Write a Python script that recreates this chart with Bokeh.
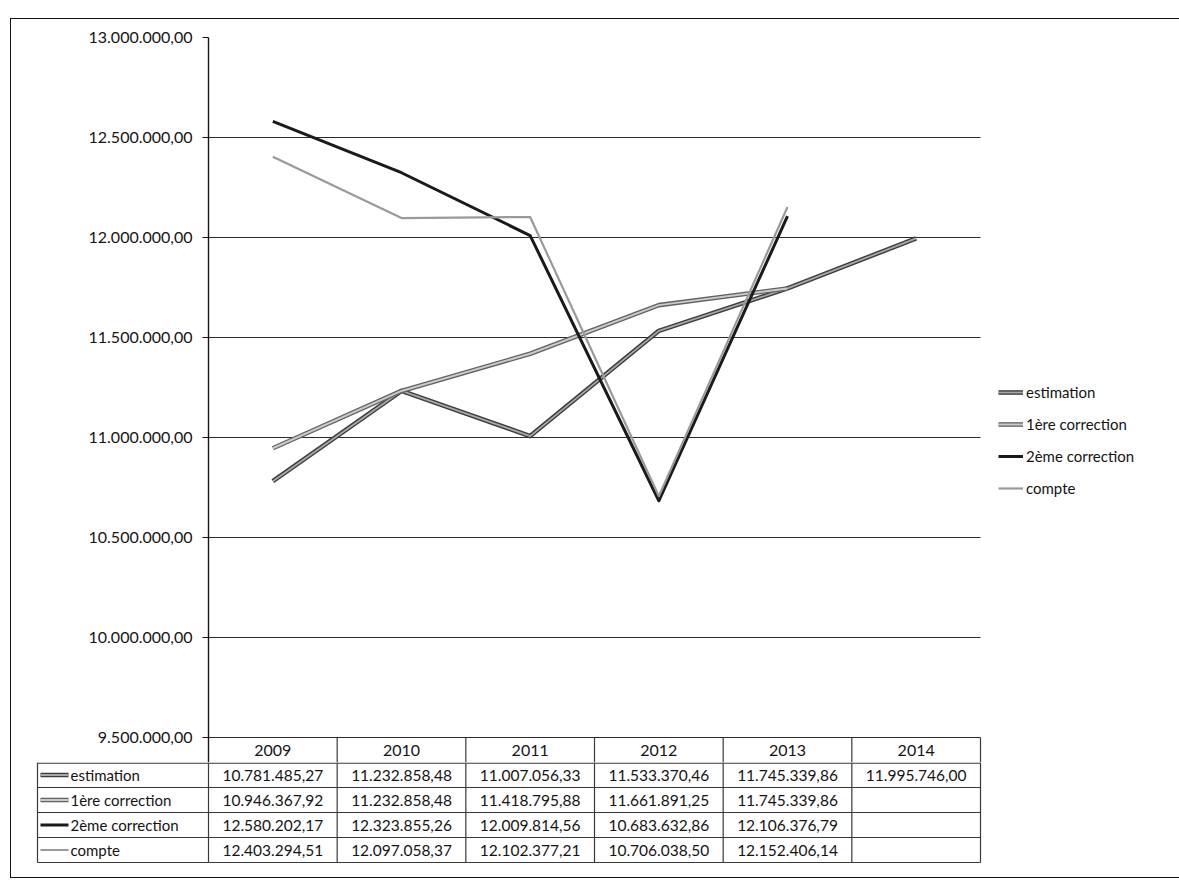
import numpy as np
from bokeh.plotting import figure
from bokeh.models import Range1d, FixedTicker, Legend, LegendItem, Div
from bokeh.core.properties import value
from bokeh.embed import file_html
from bokeh.resources import INLINE

# ---- data -------------------------------------------------------------
years = ["2009", "2010", "2011", "2012", "2013", "2014"]
estimation = [10781485.27, 11232858.48, 11007056.33, 11533370.46, 11745339.86, 11995746.00]
correction_1 = [10946367.92, 11232858.48, 11418795.88, 11661891.25, 11745339.86, None]
correction_2 = [12580202.17, 12323855.26, 12009814.56, 10683632.86, 12106376.79, None]
compte = [12403294.51, 12097058.37, 12102377.21, 10706038.50, 12152406.14, None]
series_names = ["estimation", "1ère correction", "2ème correction", "compte"]
series_values = [estimation, correction_1, correction_2, compte]

y_ticks = [9500000, 10000000, 10500000, 11000000, 11500000, 12000000, 12500000, 13000000]
y_tick_labels = ["9.500.000,00", "10.000.000,00", "10.500.000,00", "11.000.000,00",
                 "11.500.000,00", "12.000.000,00", "12.500.000,00", "13.000.000,00"]

# ---- styling ----------------------------------------------------------
FONT = "Lato"
INK = "#141414"
RULE = "#3a3a3a"
# each series is drawn as one or more stacked strokes (colour, width)
STYLES = {
    "estimation": [("#3c3c3c", 4.6), ("#a8a8a8", 1.8)],
    "1ère correction": [("#626262", 4.6), ("#cacaca", 2.0)],
    "2ème correction": [("#1a1a1a", 3.0)],
    "compte": [("#9a9a9a", 2.2)],
}

W = 1179
FRAME_L, PLOT_R, FRAME_T = 208, 980, 37   # PLOT_R: right end of the category area
PX_PER_UNIT_Y = 200 / 1_000_000          # 200 px per million
HEADER_H = 25                             # year header row, inside the chart frame
TOP_H = FRAME_T + int(round((y_ticks[-1] - y_ticks[0]) * PX_PER_UNIT_Y)) + HEADER_H
BOT_H = 884 - TOP_H
ROW_H = 25
ncol = len(years)
unit = (PLOT_R - FRAME_L) / ncol


def px(x):
    """Convert a horizontal page position into category units."""
    return (x - FRAME_L) / unit


def fr_number(v):
    s = f"{v:,.2f}"
    return s.replace(",", " ").replace(".", ",").replace(" ", ".")


# ---- chart --------------------------------------------------------------
# the frame runs to the right page edge so the legend can sit inside it
y_floor = y_ticks[0] - HEADER_H / PX_PER_UNIT_Y
pA = figure(width=W, height=TOP_H,
            x_range=Range1d(0, px(W)), y_range=Range1d(y_floor, y_ticks[-1]),
            x_axis_type=None, output_backend="svg", toolbar_location=None,
            min_border_left=FRAME_L, min_border_right=0,
            min_border_top=FRAME_T, min_border_bottom=0)
pA.outline_line_color = None
pA.background_fill_color = "white"
pA.border_fill_color = "white"

ax = pA.yaxis[0]
ax.ticker = FixedTicker(ticks=y_ticks, minor_ticks=[])
ax.major_label_overrides = {t: lbl for t, lbl in zip(y_ticks, y_tick_labels)}
ax.axis_line_color = INK
ax.axis_line_width = 1.4
ax.major_tick_line_color = INK
ax.major_tick_out = 6
ax.major_tick_in = 0
ax.minor_tick_out = 0
ax.minor_tick_in = 0
ax.major_label_standoff = 10
ax.major_label_text_font = FONT
ax.major_label_text_font_size = "16px"
ax.major_label_text_color = INK

pA.ygrid.ticker = FixedTicker(ticks=y_ticks, minor_ticks=[])
pA.ygrid.cross_bounds = (0, ncol)
pA.ygrid.grid_line_color = "#2a2a2a"
pA.ygrid.grid_line_width = 1

xs = [i + 0.5 for i in range(ncol)]
items = []
for name, vals in zip(series_names, series_values):
    ys = [np.nan if v is None else v for v in vals]
    rs = [pA.line(xs, ys, line_color=c, line_width=w, line_join="round")
          for c, w in STYLES[name]]
    items.append(LegendItem(label=name, renderers=rs))

# legend sits to the right of the category area, level with the 11 M line
legend = Legend(items=items, location=(998 - FRAME_L, 239 + HEADER_H),
                border_line_color=None, background_fill_alpha=0,
                padding=0, margin=0, spacing=12,
                glyph_width=25, glyph_height=20, label_height=20,
                label_standoff=3, label_text_font=FONT,
                label_text_font_size="15px", label_text_color=INK)
pA.add_layout(legend)

# year header row of the data table, just under the value axis
hdr_mid = y_ticks[0] - HEADER_H / 2 / PX_PER_UNIT_Y
sep_x = list(range(1, ncol + 1))
pA.segment(x0=sep_x, y0=[y_floor] * len(sep_x), x1=sep_x, y1=[y_ticks[0]] * len(sep_x),
           line_color=RULE, line_width=1.2)
pA.text(x=xs, y=[hdr_mid] * len(xs), text=years, text_align="center", text_baseline="middle",
        text_font=value(FONT), text_font_size="16px", text_color=INK)

# ---- data table rows ----------------------------------------------------------
pB = figure(width=W, height=BOT_H,
            x_range=Range1d(px(0), px(W)), y_range=Range1d(BOT_H, 0),
            x_axis_type=None, y_axis_type=None,
            output_backend="svg", toolbar_location=None,
            min_border_left=0, min_border_right=0, min_border_top=0, min_border_bottom=0)
pB.outline_line_color = None
pB.background_fill_color = "white"
pB.border_fill_color = "white"
pB.xgrid.visible = False
pB.ygrid.visible = False

n_rows = len(series_names)
table_bottom = ROW_H * n_rows
name_left = px(37)

# horizontal rules
h_y = [0.6] + [ROW_H * (r + 1) for r in range(n_rows)]
pB.segment(x0=[name_left] * len(h_y), y0=h_y, x1=[ncol] * len(h_y), y1=h_y,
           line_color=RULE, line_width=1.2)
# vertical rules
v_x = [name_left] + list(range(ncol + 1))
pB.segment(x0=v_x, y0=[0] * len(v_x), x1=v_x, y1=[table_bottom] * len(v_x),
           line_color=RULE, line_width=1.2)

for r, (name, vals) in enumerate(zip(series_names, series_values)):
    yc = ROW_H * r + ROW_H / 2
    cells = [(x, fr_number(v)) for x, v in zip(xs, vals) if v is not None]
    pB.text(x=[c[0] for c in cells], y=[yc] * len(cells), text=[c[1] for c in cells],
            text_align="center", text_baseline="middle",
            text_font=value(FONT), text_font_size="15.5px", text_color=INK)
    for c, w in STYLES[name]:
        pB.segment(x0=[px(40)], y0=[yc], x1=[px(68)], y1=[yc], line_color=c, line_width=w)
    pB.text(x=[px(70)], y=[yc], text=[name], text_align="left", text_baseline="middle",
            text_font=value(FONT), text_font_size="15px", text_color=INK)

# frame drawn around the whole chart area
frame_box = Div(text="", width=W - 10, height=860,
                styles={"position": "absolute", "left": "10px", "top": "18px", "margin": "0",
                        "box-sizing": "border-box", "pointer-events": "none",
                        "border-left": f"1.5px solid {INK}", "border-top": f"1.5px solid {INK}",
                        "border-bottom": f"1.5px solid {INK}", "background": "transparent"})

open("out.html", "w").write(file_html([pA, pB, frame_box], INLINE))
